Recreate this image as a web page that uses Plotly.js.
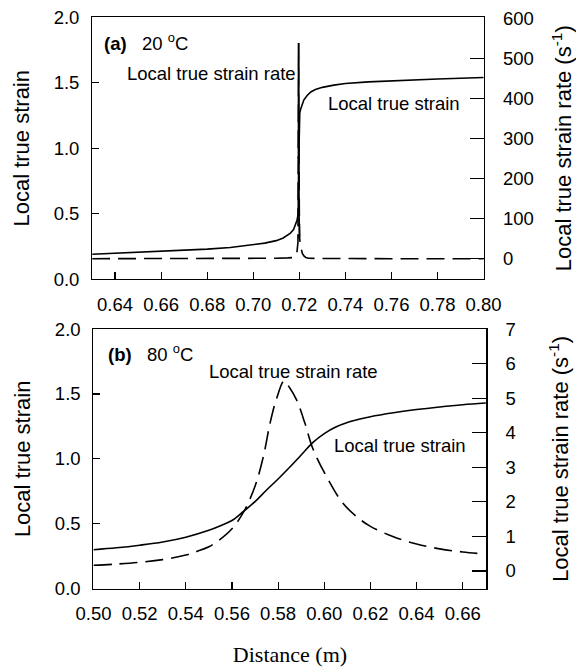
<!DOCTYPE html>
<html>
<head>
<meta charset="utf-8">
<script src="https://cdn.plot.ly/plotly-3.0.1.min.js"></script>
<style>html,body{margin:0;padding:0;background:#fff;}#chart{width:576px;height:667px;}</style>
</head>
<body>
<div id="chart"></div>
<script>
// ---- Panel (a) 20 °C ----
const topStrainDistance = [0.630, 0.640, 0.650, 0.660, 0.670, 0.680, 0.690, 0.700, 0.705, 0.710, 0.713, 0.716, 0.7175, 0.719, 0.7195, 0.7197, 0.7199, 0.7202, 0.7206, 0.7212, 0.722, 0.7235, 0.725, 0.727, 0.730, 0.735, 0.740, 0.750, 0.760, 0.770, 0.780, 0.790, 0.800];
const topStrain = [0.191, 0.198, 0.205, 0.212, 0.220, 0.230, 0.243, 0.262, 0.276, 0.295, 0.315, 0.350, 0.380, 0.450, 0.500, 0.860, 1.220, 1.270, 1.300, 1.335, 1.370, 1.405, 1.430, 1.448, 1.465, 1.482, 1.494, 1.507, 1.516, 1.523, 1.529, 1.535, 1.540];
const topRateDistance = [0.630, 0.680, 0.700, 0.710, 0.715, 0.7175, 0.7185, 0.719, 0.7194, 0.7196, 0.7197, 0.7198, 0.7199, 0.7201, 0.7204, 0.7208, 0.7213, 0.722, 0.7228, 0.724, 0.730, 0.760, 0.800];
const topRate = [0, 0, 0.5, 1, 2, 3, 8, 18, 40, 250, 538, 260, 110, 55, 35, 22, 13, 7, 3, 1, 0.5, 0, 0];

// ---- Panel (b) 80 °C ----
const botStrainDistance = [0.500, 0.510, 0.520, 0.530, 0.540, 0.550, 0.555, 0.560, 0.565, 0.570, 0.575, 0.580, 0.585, 0.590, 0.595, 0.600, 0.605, 0.610, 0.615, 0.620, 0.630, 0.640, 0.650, 0.660, 0.670];
const botStrain = [0.300, 0.315, 0.335, 0.360, 0.397, 0.450, 0.485, 0.525, 0.595, 0.670, 0.760, 0.845, 0.935, 1.030, 1.125, 1.195, 1.245, 1.280, 1.305, 1.325, 1.355, 1.380, 1.400, 1.417, 1.430];
const botRateDistance = [0.500, 0.510, 0.520, 0.530, 0.540, 0.545, 0.550, 0.555, 0.560, 0.565, 0.570, 0.5736, 0.5766, 0.5794, 0.5826, 0.585, 0.588, 0.5916, 0.595, 0.601, 0.6082, 0.6154, 0.620, 0.630, 0.640, 0.650, 0.660, 0.670];
const botRate = [0.165, 0.20, 0.25, 0.33, 0.46, 0.57, 0.70, 0.92, 1.22, 1.70, 2.45, 3.31, 4.30, 5.00, 5.50, 5.30, 4.95, 4.28, 3.55, 2.73, 1.95, 1.50, 1.29, 0.99, 0.78, 0.64, 0.55, 0.49];

// ---- Text ----
const leftTitle = 'Local true strain';
const rightTitle = 'Local true strain rate (s<sup>-1</sup>)';
const xTitle = 'Distance (m)';
const panelLabels = ['<b>(a)</b>&nbsp;&nbsp; 20 <sup>o</sup>C', '<b>(b)</b>&nbsp;&nbsp; 80 <sup>o</sup>C'];
const curveLabels = ['Local true strain rate', 'Local true strain'];

// spike of panel (a) drawn solid, as in the original (too narrow for the dash pattern)
const spikeIdx = topRate.map((v, i) => v >= 50 ? i : -1).filter(i => i >= 0);
const spikeX = spikeIdx.map(i => topRateDistance[i]);
const spikeY = spikeIdx.map(i => topRate[i]);

const solid = {color: '#000', width: 1.6, dash: 'solid'};
const dashed = {color: '#000', width: 1.6, dash: '18px,8px'};

const traces = [
  {x: topStrainDistance, y: topStrain, xaxis: 'x', yaxis: 'y', mode: 'lines', line: solid, name: 'strain a'},
  {x: topRateDistance, y: topRate, xaxis: 'x', yaxis: 'y2', mode: 'lines', line: dashed, name: 'rate a'},
  {x: spikeX, y: spikeY, xaxis: 'x', yaxis: 'y2', mode: 'lines', line: solid, name: 'rate a peak'},
  {x: botStrainDistance, y: botStrain, xaxis: 'x2', yaxis: 'y3', mode: 'lines', line: Object.assign({shape: 'spline', smoothing: 1}, solid), name: 'strain b'},
  {x: botRateDistance, y: botRate, xaxis: 'x2', yaxis: 'y4', mode: 'lines', line: Object.assign({shape: 'spline', smoothing: 1}, dashed), name: 'rate b'}
];

const FONT = 'Liberation Sans, Arial, sans-serif';
const tickFont = {family: FONT, size: 18.5, color: '#000'};
const titleFont = {family: FONT, size: 22, color: '#000'};

function xAx(domain, range, tick0, anchor, title) {
  const a = {domain: domain, range: range, anchor: anchor, tick0: tick0, dtick: 0.02, tickformat: '.2f',
    ticks: 'inside', ticklen: 7, tickwidth: 1.2, tickcolor: '#000', showline: true, linecolor: '#000', linewidth: 1.2,
    mirror: true, showgrid: false, zeroline: false, tickfont: tickFont, ticklabelstandoff: 8};
  if (title) a.title = {text: title, font: {family: 'Liberation Serif, Times New Roman, serif', size: 22, color: '#000'}, standoff: 28};
  return a;
}
function yLeft(domain, anchor) {
  return {domain: domain, range: [0, 2], anchor: anchor, dtick: 0.5, tickformat: '.1f',
    ticks: 'inside', ticklen: 7, tickwidth: 1.2, tickcolor: '#000', showline: true, linecolor: '#000', linewidth: 1.2,
    showgrid: false, zeroline: false, tickfont: tickFont, ticklabelstandoff: 8,
    title: {text: leftTitle, font: titleFont, standoff: 18}};
}
function yRight(overlay, range, dtick, anchor) {
  return {overlaying: overlay, side: 'right', range: range, anchor: anchor, dtick: dtick, tick0: 0,
    ticks: 'inside', ticklen: 14, tickwidth: 1.2, tickcolor: '#000', showline: true, linecolor: '#000', linewidth: 1.2,
    showgrid: false, zeroline: false, tickfont: tickFont, ticklabelstandoff: 14,
    title: {text: rightTitle, font: titleFont, standoff: 38}};
}

const annFont = {family: FONT, size: 18.5, color: '#000'};
const annotations = [
  {xref: 'x', yref: 'y', x: 0.6345, y: 1.814, text: panelLabels[0], xanchor: 'left', yanchor: 'middle', showarrow: false, font: annFont},
  {xref: 'x', yref: 'y', x: 0.6820, y: 1.567, text: curveLabels[0], xanchor: 'center', yanchor: 'middle', showarrow: false, font: annFont},
  {xref: 'x', yref: 'y', x: 0.7612, y: 1.338, text: curveLabels[1], xanchor: 'center', yanchor: 'middle', showarrow: false, font: annFont},
  {xref: 'x2', yref: 'y3', x: 0.5054, y: 1.817, text: panelLabels[1], xanchor: 'left', yanchor: 'middle', showarrow: false, font: annFont},
  {xref: 'x2', yref: 'y3', x: 0.5866, y: 1.671, text: curveLabels[0], xanchor: 'center', yanchor: 'middle', showarrow: false, font: annFont},
  {xref: 'x2', yref: 'y3', x: 0.6328, y: 1.106, text: curveLabels[1], xanchor: 'center', yanchor: 'middle', showarrow: false, font: annFont}
];

const layout = {
  width: 576, height: 667,
  margin: {l: 0, r: 0, t: 0, b: 0},
  paper_bgcolor: '#fff', plot_bgcolor: '#fff',
  showlegend: false,
  xaxis: xAx([0.1602, 0.8403], [0.6301, 0.8002], 0.64, 'y', null),
  yaxis: yLeft([0.5813, 0.9741], 'x'),
  yaxis2: yRight('y', [-51.4, 602.5], 100, 'x'),
  xaxis2: xAx([0.1623, 0.8446], [0.50, 0.6703], 0.50, 'y3', xTitle),
  yaxis3: yLeft([0.1174, 0.5067], 'x2'),
  yaxis4: yRight('y3', [-0.512, 7.0], 1, 'x2'),
  annotations: annotations
};

Plotly.newPlot('chart', traces, layout, {displayModeBar: false, staticPlot: true});
</script>
</body>
</html>
